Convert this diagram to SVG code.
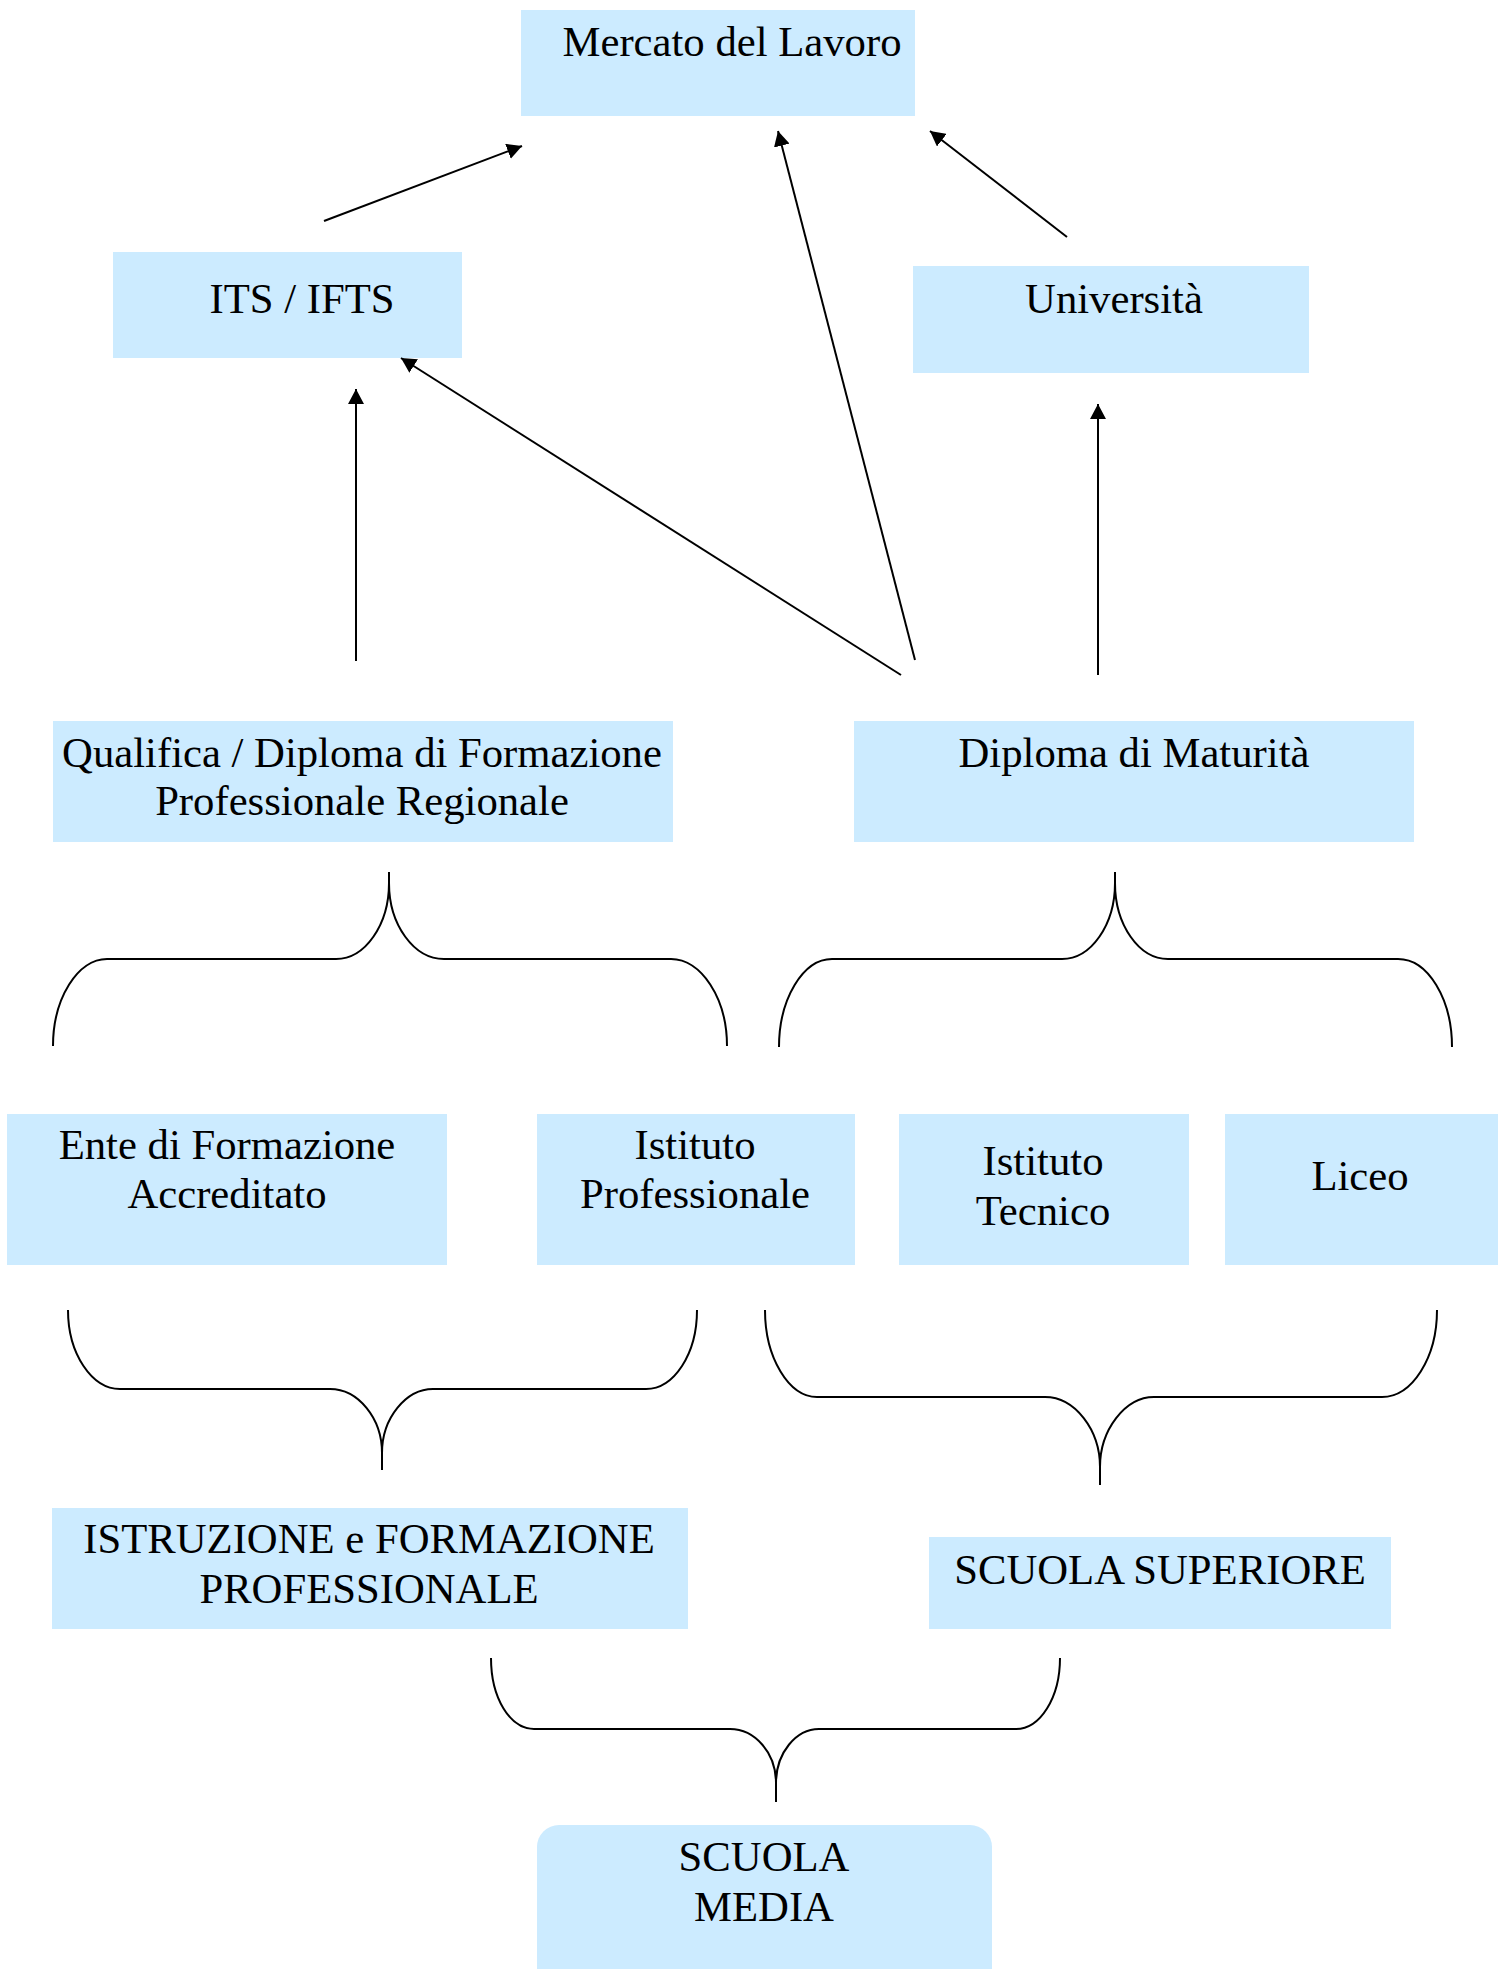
<svg xmlns="http://www.w3.org/2000/svg" width="1505" height="1969" viewBox="0 0 1505 1969">
<style>
.box{fill:#CCEBFF;stroke:none}
.t{font-family:"Liberation Serif","Times New Roman",serif;font-size:42.7px;fill:#000;text-anchor:middle}
.c{stroke:#000;stroke-width:2;fill:none}
.b{stroke:#000;stroke-width:2;fill:none}
</style>
<defs>
<marker id="ah" markerUnits="userSpaceOnUse" markerWidth="16" markerHeight="16" refX="15" refY="8" orient="auto">
<path d="M0,0 L15,8 L0,16 z" fill="#000"/>
</marker>
</defs>
<rect width="1505" height="1969" fill="#fff"/>
<g id="mercato"><rect class="box" x="521" y="10" width="394" height="106"/><text class="t" x="732" y="56">Mercato del Lavoro</text></g>
<g id="its"><rect class="box" x="113" y="252" width="349" height="106"/><text class="t" x="302" y="313">ITS / IFTS</text></g>
<g id="universita"><rect class="box" x="913" y="266" width="396" height="107"/><text class="t" x="1114" y="313">Università</text></g>
<g id="qualifica"><rect class="box" x="53" y="721" width="620" height="121"/><text class="t" x="362" y="767">Qualifica / Diploma di Formazione</text><text class="t" x="362" y="815">Professionale Regionale</text></g>
<g id="maturita"><rect class="box" x="854" y="721" width="560" height="121"/><text class="t" x="1134" y="767">Diploma di Maturità</text></g>
<g id="ente"><rect class="box" x="7" y="1114" width="440" height="151"/><text class="t" x="227" y="1159">Ente di Formazione</text><text class="t" x="227" y="1208">Accreditato</text></g>
<g id="ist-prof"><rect class="box" x="537" y="1114" width="318" height="151"/><text class="t" x="695" y="1159">Istituto</text><text class="t" x="695" y="1208">Professionale</text></g>
<g id="ist-tec"><rect class="box" x="899" y="1114" width="290" height="151"/><text class="t" x="1043" y="1175">Istituto</text><text class="t" x="1043" y="1225">Tecnico</text></g>
<g id="liceo"><rect class="box" x="1225" y="1114" width="273" height="151"/><text class="t" x="1360" y="1190">Liceo</text></g>
<g id="ifp"><rect class="box" x="52" y="1508" width="636" height="121"/><text class="t" x="369" y="1553">ISTRUZIONE e FORMAZIONE</text><text class="t" x="369" y="1603">PROFESSIONALE</text></g>
<g id="superiore"><rect class="box" x="929" y="1537" width="462" height="92"/><text class="t" x="1160" y="1584">SCUOLA SUPERIORE</text></g>
<g id="media"><rect class="box" x="537" y="1825" width="455" height="170" rx="22" ry="22"/><text class="t" x="764" y="1871">SCUOLA</text><text class="t" x="764" y="1921">MEDIA</text></g>
<g id="connectors">
<line class="c" x1="324" y1="221" x2="522" y2="146" marker-end="url(#ah)"/>
<line class="c" x1="915" y1="660" x2="778" y2="131" marker-end="url(#ah)"/>
<line class="c" x1="1067" y1="237" x2="930" y2="131" marker-end="url(#ah)"/>
<line class="c" x1="356" y1="661" x2="356" y2="389" marker-end="url(#ah)"/>
<line class="c" x1="901" y1="675" x2="401" y2="358" marker-end="url(#ah)"/>
<line class="c" x1="1098" y1="675" x2="1098" y2="404" marker-end="url(#ah)"/>
<path class="b" d="M53,1046 C53,998 78,959 107,959 L336,959 C365,959 389,925 389,883 L389,872 M389,883 C389,925 414,959 444,959 L671,959 C701,959 727,998 727,1046"/>
<path class="b" d="M779,1047 C779,999 803,959 832,959 L1062,959 C1091,959 1115,925 1115,883 L1115,872 M1115,883 C1115,925 1139,959 1168,959 L1398,959 C1428,959 1452,999 1452,1047"/>
<path class="b" d="M68,1310 C68,1354 92,1389 120,1389 L330,1389 C358,1389 382,1418 382,1453 L382,1470 M382,1453 C382,1418 406,1389 433,1389 L646,1389 C674,1389 697,1354 697,1310"/>
<path class="b" d="M765,1310 C765,1358 789,1397 817,1397 L1045,1397 C1075,1397 1100,1430 1100,1467 L1100,1485 M1100,1467 C1100,1430 1125,1397 1154,1397 L1382,1397 C1412,1397 1437,1358 1437,1310"/>
<path class="b" d="M491,1658 C491,1698 510,1729 534,1729 L730,1729 C755,1729 776,1753 776,1783 L776,1802 M776,1783 C776,1753 796,1729 819,1729 L1016,1729 C1040,1729 1060,1698 1060,1658"/>
</g>
</svg>
